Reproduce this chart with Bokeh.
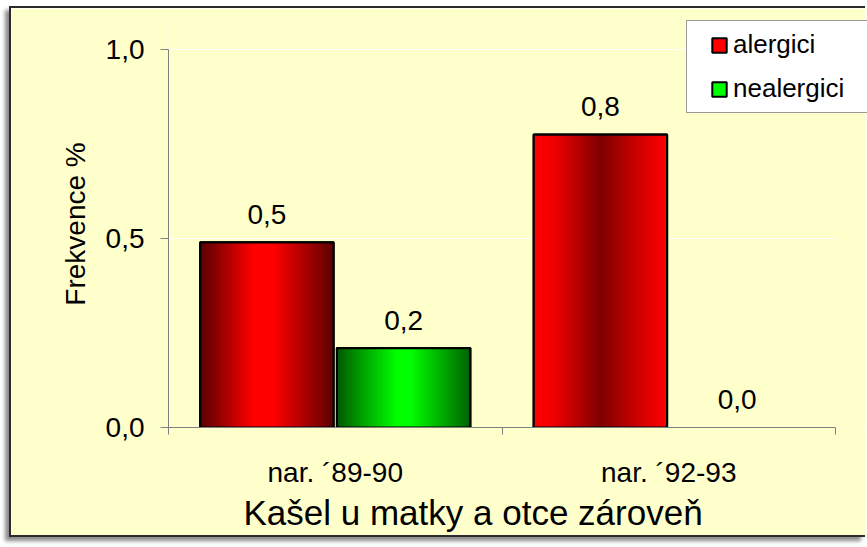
from bokeh.plotting import figure
from bokeh.models import (Range1d, FixedTicker, CustomJSTickFormatter, ColumnDataSource,
                          Legend, LegendItem, Title)
from bokeh.core.properties import value
from bokeh.embed import file_html
from bokeh.resources import INLINE

# ---- data ----
categories = ["nar. \u00b489-90", "nar. \u00b492-93"]
series_names = ["alergici", "nealergici"]
alergici = [0.49, 0.775]
nealergici = [0.21, 0.0]
y_ticks = [0.0, 0.5, 1.0]
x_title = "Ka\u0161el u matky a otce z\u00e1rove\u0148"
y_title = "Frekvence %"

FONT = "Liberation Sans"
BG = "#FFFFCC"
series_colors = ["#ff0000", "#00ff00"]

# gradient styles per bar (group, series)
grad_red_a = [(0.0, (0x5a, 0, 0)), (0.40, (0xff, 0, 0)), (0.55, (0xff, 0, 0)), (1.0, (0x5c, 0, 0))]
grad_red_b = [(0.0, (0xff, 0, 0)), (0.15, (0xf0, 0, 0)), (0.5, (0x80, 0, 0)), (0.85, (0xe0, 0, 0)), (1.0, (0xff, 0, 0))]
grad_green = [(0.0, (0, 0x5a, 0)), (0.45, (0, 0xff, 0)), (0.55, (0, 0xff, 0)), (1.0, (0, 0x62, 0))]
bar_grads = {(0, 0): grad_red_a, (1, 0): grad_red_b, (0, 1): grad_green, (1, 1): grad_green}


def grad_color(stops, t):
    for (t0, c0), (t1, c1) in zip(stops[:-1], stops[1:]):
        if t0 <= t <= t1:
            f = 0 if t1 == t0 else (t - t0) / (t1 - t0)
            c = [round(a + (b - a) * f) for a, b in zip(c0, c1)]
            return "#%02x%02x%02x" % tuple(c)
    return "#%02x%02x%02x" % stops[-1][1]


BAR_W = 0.4
OFFS = [-0.205, 0.205]
N = 64
NCAT = len(categories)
Y_MAX = max(y_ticks)

# frame is a bit larger than the axes so that the legend (top right) is not clipped
X_END = NCAT * 699 / 667
Y_END = Y_MAX * 407 / 378

p = figure(x_range=Range1d(0, X_END), y_range=Range1d(0, Y_END), width=856, height=531,
           min_border_left=157, min_border_right=0, min_border_top=12, min_border_bottom=112,
           output_backend="svg", toolbar_location=None,
           background_fill_color=BG, border_fill_color=BG, outline_line_color=None)
p.styles = {"margin-left": "9px", "margin-top": "6px",
            "border-left": "2px solid #2b2b2b", "border-top": "2px solid #2b2b2b",
            "border-bottom": "2px solid #2b2b2b", "box-shadow": "-4px 4px 4px #8a8a8a"}

# white horizontal grid lines across the category span
gy = [t for t in y_ticks if t > 0]
p.segment(x0=[0] * len(gy), x1=[NCAT] * len(gy), y0=gy, y1=gy, line_color="white",
          line_width=1, level="underlay")

strips = dict(left=[], right=[], top=[], color=[])
outl = dict(x=[], top=[])
labs = dict(x=[], y=[], text=[])
base_renderers = []
for si, vals in enumerate([alergici, nealergici]):
    base = dict(x=[], top=[])
    for gi, v in enumerate(vals):
        c = gi + 0.5 + OFFS[si]
        labs["x"].append(c)
        labs["y"].append(v)
        labs["text"].append(("%.1f" % v).replace(".", ","))
        if v <= 0:
            continue
        base["x"].append(c)
        base["top"].append(v)
        outl["x"].append(c)
        outl["top"].append(v)
        L = c - BAR_W / 2
        d = BAR_W / N
        for k in range(N):
            t = (k + 0.5) / N
            strips["left"].append(L + k * d)
            strips["right"].append(min(L + (k + 2) * d, L + BAR_W))
            strips["top"].append(v)
            strips["color"].append(grad_color(bar_grads[(gi, si)], t))
    r = p.vbar(x="x", top="top", width=BAR_W, bottom=0, fill_color=series_colors[si],
               line_color="black", line_width=2, source=ColumnDataSource(base))
    base_renderers.append(r)

p.quad(left="left", right="right", top="top", bottom=0, fill_color="color", line_color=None,
       source=ColumnDataSource(strips))
p.vbar(x="x", top="top", width=BAR_W, bottom=0, fill_alpha=0, line_color="black", line_width=2.2,
       source=ColumnDataSource(outl))
p.text(x="x", y="y", text="text", source=ColumnDataSource(labs), text_align="center",
       text_baseline="alphabetic", y_offset=-28, text_font=value(FONT), text_font_size="28px",
       text_color="black")

# axes
AX = "#808080"
p.yaxis.bounds = (0, Y_MAX)
p.yaxis.ticker = FixedTicker(ticks=y_ticks)
p.yaxis.formatter = CustomJSTickFormatter(code="return tick.toFixed(1).replace('.', ',');")
p.yaxis.major_tick_out = 8
p.yaxis.major_tick_in = 0
p.yaxis.minor_tick_line_color = None
p.yaxis.axis_line_color = AX
p.yaxis.major_tick_line_color = AX
p.yaxis.major_label_standoff = 16
p.yaxis.axis_label = y_title
p.yaxis.axis_label_standoff = 12

p.xaxis.bounds = (0, NCAT)
p.xaxis.ticker = FixedTicker(ticks=[i + 0.5 for i in range(NCAT)],
                             minor_ticks=[float(i) for i in range(NCAT + 1)])
p.xaxis.major_label_overrides = {i + 0.5: c for i, c in enumerate(categories)}
p.xaxis.major_tick_out = 0
p.xaxis.major_tick_in = 0
p.xaxis.minor_tick_out = 7
p.xaxis.minor_tick_in = 0
p.xaxis.minor_tick_line_color = AX
p.xaxis.axis_line_color = AX
p.xaxis.major_label_standoff = 22

for ax in (p.xaxis[0], p.yaxis[0]):
    ax.major_label_text_font = FONT
    ax.major_label_text_font_size = "28px"
    ax.major_label_text_color = "black"
    ax.axis_label_text_font = FONT
    ax.axis_label_text_font_style = "normal"
    ax.axis_label_text_color = "black"
p.yaxis.axis_label_text_font_size = "28px"

p.add_layout(Title(text=x_title, align="left", offset=75, standoff=0, text_font=FONT,
                   text_font_size="35px", text_font_style="normal", text_color="black"), "below")

p.xgrid.grid_line_color = None
p.ygrid.grid_line_color = None

# legend; a blank left title only adds some room before the swatches
items = [LegendItem(label=name, renderers=[r]) for name, r in zip(series_names, base_renderers)]
leg = Legend(items=items, location=(518, 314), padding=8, glyph_width=18, glyph_height=18,
             label_height=28, spacing=13, label_standoff=5, label_width=140,
             title=" ", title_location="left", title_standoff=14, title_text_font_size="1px",
             label_text_font=FONT, label_text_font_size="26px", label_text_color="black",
             border_line_color="#333333", border_line_width=1.5, background_fill_color="white",
             background_fill_alpha=1.0)
p.add_layout(leg, "center")

open("out.html", "w").write(file_html(p, INLINE))
